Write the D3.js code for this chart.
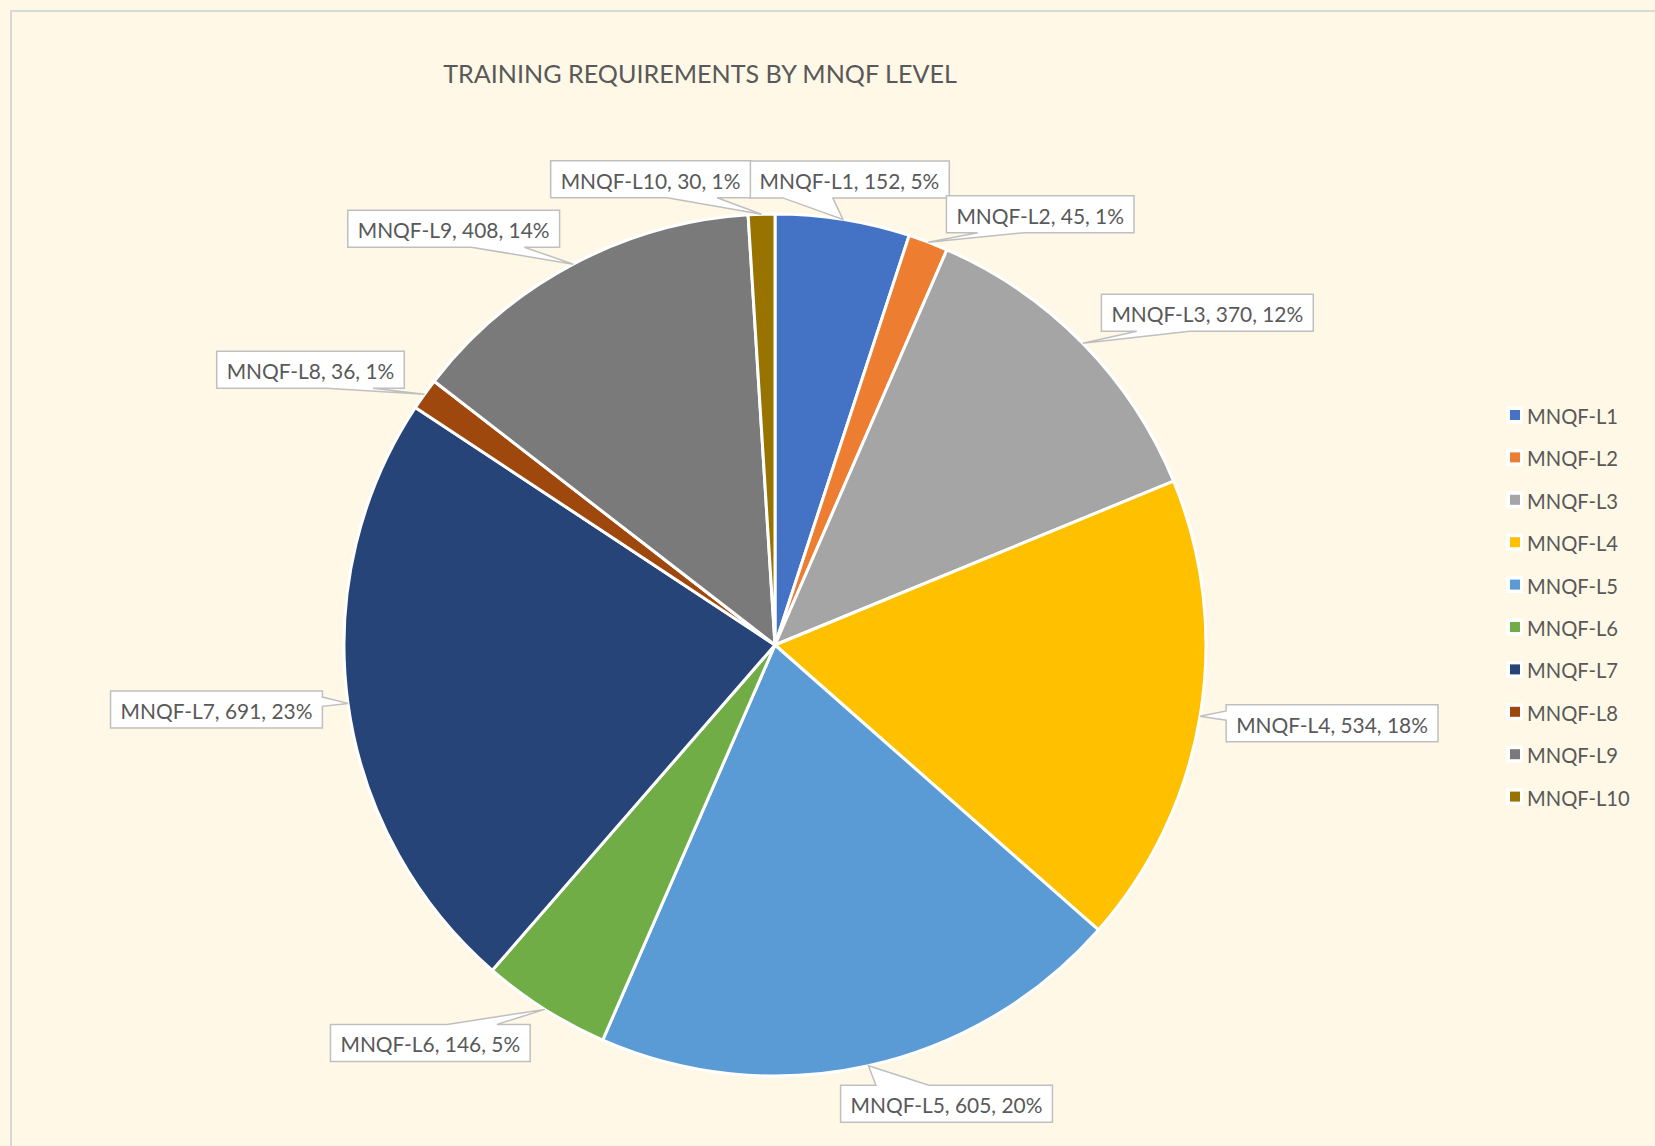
<!DOCTYPE html>
<html><head><meta charset="utf-8">
<script src="https://cdn.jsdelivr.net/npm/d3@7"></script>
<style>html,body{margin:0;padding:0;background:#FFF8E6;overflow:hidden}</style>
</head><body>
<svg id="c" width="1655" height="1146"></svg>
<script>
const title = "TRAINING REQUIREMENTS BY MNQF LEVEL";
const categories = ["MNQF-L1","MNQF-L2","MNQF-L3","MNQF-L4","MNQF-L5","MNQF-L6","MNQF-L7","MNQF-L8","MNQF-L9","MNQF-L10"];
const values = [152,45,370,534,605,146,691,36,408,30];
const colors = ["#4472C4","#ED7D31","#A5A5A5","#FFC000","#5B9BD5","#70AD47","#264478","#9E480E","#7A7A7A","#997300"];
// layout: label box centre offset from the slice edge point
const labelOffsets = [[6.5,-40],[112,-28],[124.5,-30.5],[132,7],[78,38],[-114.5,33.5],[-131.5,6],[-114,-24.5],[-119.5,-35.5],[-111,-35]];

const FONT = "Lato, 'Open Sans', sans-serif";
const TXT = "#595959";
const svg = d3.select("#c");
const W = 1655, H = 1146;
const cx = 775, cy = 645, R = 431;

svg.append("rect").attr("x",0).attr("y",0).attr("width",W).attr("height",H).attr("fill","#FFF8E6");
svg.append("rect").attr("x",11).attr("y",11).attr("width",W+20).attr("height",H+20)
  .attr("fill","none").attr("stroke","#D9D9D9").attr("stroke-width",2);

function fitSize(str, target){
  const t = svg.append("text").attr("font-family",FONT).attr("font-size",100).text(str);
  const w = t.node().getComputedTextLength();
  t.remove();
  return 100*target/w;
}
const total = d3.sum(values);
const data = categories.map((c,i)=>({cat:c,val:values[i],color:colors[i],off:labelOffsets[i]}));

// title
svg.append("text").attr("x",700).attr("y",83).attr("text-anchor","middle")
  .attr("font-family",FONT).attr("font-size",fitSize(title,514)).attr("fill",TXT).text(title);

// pie
const pie = d3.pie().value(d=>d.val).sort(null);
const arc = d3.arc().innerRadius(0).outerRadius(R);
const arcs = pie(data);
const g = svg.append("g").attr("transform",`translate(${cx},${cy})`);
g.selectAll("path.slice").data(arcs).join("path").attr("class","slice")
  .attr("d",arc).attr("fill",d=>d.data.color).attr("stroke","#fff").attr("stroke-width",3).attr("stroke-linejoin","round");

// labels
function calloutPath(l,t,w,h,tx,ty){
  const r=l+w,b=t+h;
  const dx=tx-(l+w/2), dy=ty-(t+h/2);
  const dz=Math.abs(dy)-Math.abs(dx*h/w);
  const x1=l+w*(dx>0?7:2)/12, x2=l+w*(dx>0?10:5)/12;
  const y1=t+h*(dy>0?7:2)/12, y2=t+h*(dy>0?10:5)/12;
  let p=`M${l},${t}`;
  if(dz>0&&dy<0) p+=`L${x1},${t}L${tx},${ty}L${x2},${t}`;
  p+=`L${r},${t}`;
  if(dz<=0&&dx>0) p+=`L${r},${y1}L${tx},${ty}L${r},${y2}`;
  p+=`L${r},${b}`;
  if(dz>0&&dy>0) p+=`L${x2},${b}L${tx},${ty}L${x1},${b}`;
  p+=`L${l},${b}`;
  if(dz<=0&&dx<0) p+=`L${l},${y2}L${tx},${ty}L${l},${y1}`;
  return p+'Z';
}
const labelText = d => `${d.data.cat}, ${d.data.val}, ${Math.round(d.data.val/total*100)}%`;
const lblSize = fitSize("MNQF-L4, 534, 18%",192);
const lg = svg.append("g");
arcs.forEach(d=>{
  const a=(d.startAngle+d.endAngle)/2;
  const tx=cx+R*Math.sin(a), ty=cy-R*Math.cos(a);
  const bx=tx+d.data.off[0], by=ty+d.data.off[1];
  const str=labelText(d);
  const t = lg.append("text").attr("font-family",FONT).attr("font-size",lblSize).attr("fill",TXT)
    .attr("text-anchor","middle").attr("dominant-baseline","central").attr("x",bx).attr("y",by+1).text(str);
  const tw = t.node().getComputedTextLength();
  const w=tw+20, h=37;
  lg.insert("path","text").attr("d",calloutPath(bx-w/2,by-h/2,w,h,tx,ty))
    .attr("fill","#fff").attr("stroke","#BFBFBF").attr("stroke-width",1.5);
});

// legend
const legSize = fitSize("MNQF-L1",91);
const leg = svg.append("g");
data.forEach((d,i)=>{
  const y = 415 + i*42.4;
  leg.append("rect").attr("x",1506).attr("y",y-8.5).attr("width",17).attr("height",17).attr("fill","#fff");
  leg.append("rect").attr("x",1510).attr("y",y-5).attr("width",10).attr("height",10).attr("fill",d.color);
  leg.append("text").attr("x",1527).attr("y",y+1).attr("dominant-baseline","central")
    .attr("font-family",FONT).attr("font-size",legSize).attr("fill",TXT).text(d.cat);
});
</script>
</body></html>
